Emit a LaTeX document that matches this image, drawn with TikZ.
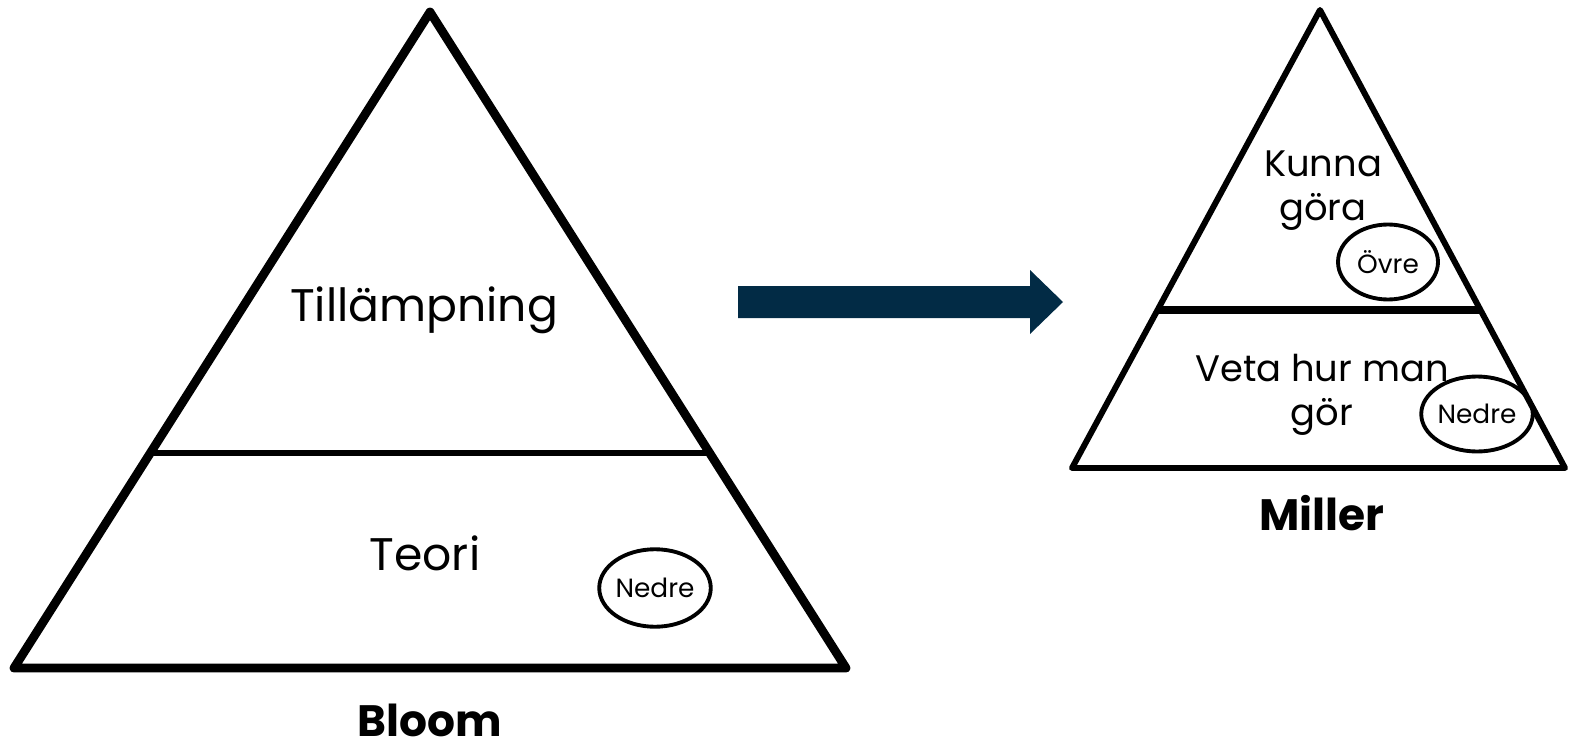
\documentclass[tikz,border=0pt]{standalone}
\usepackage{fontspec}
\setmainfont{Poppins}
\usetikzlibrary{calc,shapes.geometric}
\definecolor{navy}{HTML}{022B45}
\tikzset{
  pyr/.style={line width=5pt,line join=round},
  lvl/.style={font=\fontsize{26}{30}\selectfont},
  mlvl/.style={font=\fontsize{21}{25}\selectfont,align=center},
  tag/.style={draw,ellipse,line width=2.2pt,inner sep=0pt,minimum width=#1,font=\fontsize{15}{17}\selectfont},
  tag/.default=1.95cm,
  title/.style={font=\bfseries\fontsize{25}{29}\selectfont,inner sep=0pt}
}
\begin{document}
\begin{tikzpicture}[x=0.02cm,y=-0.02cm]
    \useasboundingbox (0,0) rectangle (1570,750);
    %Bloom
    \coordinate (bTop) at (430,12);
    \coordinate (bLeft) at (14,668);
    \coordinate (bRight) at (846,668);
    \draw[pyr] (bTop) -- (bLeft) -- (bRight) -- cycle;
    \draw[line width=3.4pt] ($(bTop)!0.672!(bLeft)$) -- ($(bTop)!0.672!(bRight)$);
    \node[lvl] (tillamp) at (424,310) {Tillämpning};
    \node[lvl] (teori) at (425,553) {Teori};
    \node[tag,minimum height=1.55cm] (bNedre) at (655,588) {Nedre};
    \node[title,anchor=base] (bloom) at (430,736) {Bloom};
    %arrow between the two
    \fill[navy] (738,286) -- (1030,286) -- (1030,270) -- (1063,302) -- (1030,334) -- (1030,318) -- (738,318) -- cycle;
    %Miller
    \coordinate (mTop) at (1320,10);
    \coordinate (mLeft) at (1072,468);
    \coordinate (mRight) at (1565,468);
    \draw[pyr,line width=3.4pt] (mTop) -- (mLeft) -- (mRight) -- cycle;
    \draw[line width=4pt] ($(mTop)!0.655!(mLeft)$) -- ($(mTop)!0.655!(mRight)$);
    \node[mlvl] (kunna) at (1323,191) {Kunna\\göra};
    \node[tag=2cm,minimum height=1.5cm] (ovre) at (1388,262) {Övre};
    \node[mlvl] (veta) at (1322,395) {Veta hur man\\gör};
    \node[tag,minimum height=1.5cm] (mNedre) at (1477,414) {Nedre};
    \node[title,anchor=base] (miller) at (1322,530) {Miller};
\end{tikzpicture}
\end{document}
